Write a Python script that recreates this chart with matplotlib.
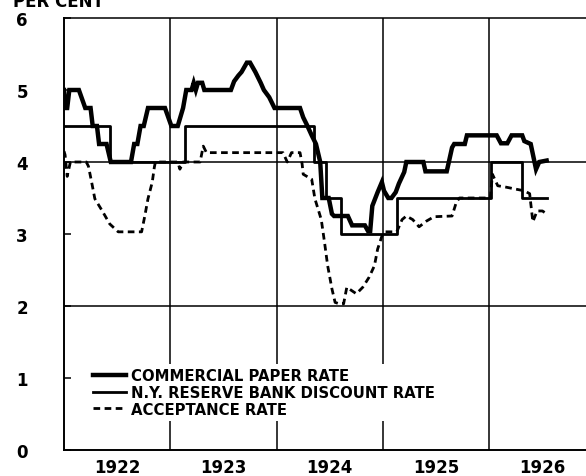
import matplotlib
matplotlib.use('Agg')
import matplotlib.pyplot as plt

# ------------------------------------------------------------
# data (x = fractional year, y = per cent)
# ------------------------------------------------------------
cp_t = [1922.00, 1922.01, 1922.03, 1922.05, 1922.14, 1922.20, 1922.25, 1922.27,
        1922.31, 1922.33, 1922.40, 1922.44, 1922.63, 1922.66, 1922.69, 1922.72,
        1922.75, 1922.79, 1922.95, 1923.01, 1923.07, 1923.12, 1923.15, 1923.20,
        1923.22, 1923.24, 1923.26, 1923.30, 1923.32, 1923.57, 1923.60, 1923.64,
        1923.67, 1923.72, 1923.75, 1923.80, 1923.85, 1923.88, 1923.93, 1923.98,
        1924.22, 1924.25, 1924.29, 1924.33, 1924.37, 1924.41, 1924.43, 1924.49,
        1924.52, 1924.54, 1924.67, 1924.71, 1924.83, 1924.86, 1924.88, 1924.90,
        1924.95, 1924.99, 1925.01, 1925.05, 1925.08, 1925.12, 1925.15, 1925.20,
        1925.22, 1925.38, 1925.40, 1925.60, 1925.62, 1925.65, 1925.67, 1925.77,
        1925.79, 1926.07, 1926.11, 1926.17, 1926.21, 1926.31, 1926.33, 1926.39,
        1926.42, 1926.44, 1926.47, 1926.54]
cp_v = [5.00, 4.75, 4.75, 5.00, 5.00, 4.75, 4.75, 4.50,
        4.50, 4.25, 4.25, 4.00, 4.00, 4.25, 4.25, 4.50,
        4.50, 4.75, 4.75, 4.50, 4.50, 4.75, 5.00, 5.00,
        5.10, 5.00, 5.10, 5.10, 5.00, 5.00, 5.12, 5.20,
        5.25, 5.38, 5.38, 5.25, 5.10, 5.00, 4.90, 4.75,
        4.75, 4.62, 4.50, 4.37, 4.25, 4.00, 3.50, 3.50,
        3.28, 3.25, 3.25, 3.12, 3.12, 3.04, 3.04, 3.39,
        3.58, 3.72, 3.60, 3.50, 3.50, 3.58, 3.70, 3.86,
        4.00, 4.00, 3.87, 3.87, 4.00, 4.20, 4.25, 4.25,
        4.37, 4.37, 4.26, 4.26, 4.37, 4.37, 4.29, 4.25,
        4.04, 3.90, 4.00, 4.02]

# N.Y. reserve bank discount rate: change dates and new rate
ny_t = [1922.00, 1922.43, 1923.14, 1924.35, 1924.46, 1924.61, 1925.13,
        1926.02, 1926.31, 1926.54]
ny_v = [4.5, 4.0, 4.5, 4.0, 3.5, 3.0, 3.5, 4.0, 3.5, 3.5]

acc_t = [1922.00, 1922.01, 1922.03, 1922.06, 1922.21, 1922.23, 1922.26, 1922.29,
         1922.36, 1922.43, 1922.51, 1922.73, 1922.76, 1922.79, 1922.83, 1922.85,
         1922.86, 1923.07, 1923.09, 1923.12, 1923.28, 1923.31, 1923.34, 1924.06,
         1924.10, 1924.14, 1924.22, 1924.24, 1924.25, 1924.33, 1924.36, 1924.42,
         1924.45, 1924.48, 1924.52, 1924.55, 1924.59, 1924.63, 1924.66, 1924.75,
         1924.81, 1924.87, 1924.92, 1924.95, 1924.99, 1925.02, 1925.13, 1925.18,
         1925.22, 1925.28, 1925.34, 1925.41, 1925.48, 1925.65, 1925.69, 1925.72,
         1926.01, 1926.03, 1926.08, 1926.16, 1926.26, 1926.33, 1926.38, 1926.40,
         1926.41, 1926.45, 1926.50, 1926.54]
acc_v = [4.15, 4.10, 3.80, 4.00, 4.00, 3.94, 3.72, 3.49,
         3.32, 3.14, 3.03, 3.03, 3.25, 3.49, 3.72, 3.93,
         4.00, 4.00, 3.90, 4.00, 4.00, 4.22, 4.13, 4.13,
         4.00, 4.13, 4.13, 3.97, 3.83, 3.76, 3.49, 3.20,
         2.89, 2.56, 2.24, 2.05, 2.03, 2.03, 2.26, 2.17,
         2.26, 2.40, 2.56, 2.79, 2.97, 3.03, 3.03, 3.20,
         3.25, 3.20, 3.10, 3.18, 3.24, 3.25, 3.44, 3.50,
         3.50, 3.83, 3.67, 3.65, 3.62, 3.60, 3.56, 3.30,
         3.17, 3.32, 3.32, 3.28]

years = [1922, 1923, 1924, 1925, 1926]
labels = ['COMMERCIAL PAPER RATE',
          'N.Y. RESERVE BANK DISCOUNT RATE',
          'ACCEPTANCE RATE']

# ------------------------------------------------------------
fig = plt.figure(figsize=(5.86, 4.77), dpi=100)
ax = fig.add_axes([64/586, 26/477, 522/586, 432/477])

for y in (2, 4):
    ax.axhline(y, color='black', lw=1.1, zorder=1)
for yr in years[1:]:
    ax.axvline(yr, color='black', lw=1.1, zorder=1)

l1, = ax.plot(cp_t, cp_v, color='black', lw=3.2, solid_joinstyle='miter', zorder=4)
l2, = ax.plot(ny_t, ny_v, color='black', lw=2.0, drawstyle='steps-post', zorder=3)
l3, = ax.plot(acc_t, acc_v, color='black', lw=2.0, dashes=(2.4, 1.6), zorder=2)

ax.set_xlim(1922, 1926.91)
ax.set_ylim(0, 6)

ax.set_yticks(range(7))
ax.set_yticklabels([str(i) for i in range(7)], fontsize=12, fontweight='bold')
ax.tick_params(axis='y', direction='in', length=5, width=1.1, pad=26)

ax.set_xticks(years[1:])
ax.set_xticklabels([])
ax.set_xticks([y + 0.5 for y in years], minor=True)
ax.set_xticklabels([str(y) for y in years], minor=True, fontsize=12, fontweight='bold')
ax.tick_params(axis='x', which='both', length=0, pad=6)

ax.spines['right'].set_visible(False)
for s in ('left', 'bottom'):
    ax.spines[s].set_linewidth(1.4)
ax.spines['top'].set_linewidth(1.1)

leg = ax.legend([l1, l2, l3], labels, loc='upper left',
                bbox_to_anchor=(0.047, 0.2), borderaxespad=0, frameon=True,
                facecolor='white', edgecolor='none', framealpha=1,
                prop={'weight': 'bold', 'size': 10.7}, handlelength=2.2,
                handletextpad=0.35, labelspacing=0.12, borderpad=0.3)
leg.set_zorder(5)

fig.text(13/586, 470/477, 'PER CENT', ha='left', va='baseline',
         fontsize=12, fontweight='bold')

fig.savefig('out.png', dpi=100)
